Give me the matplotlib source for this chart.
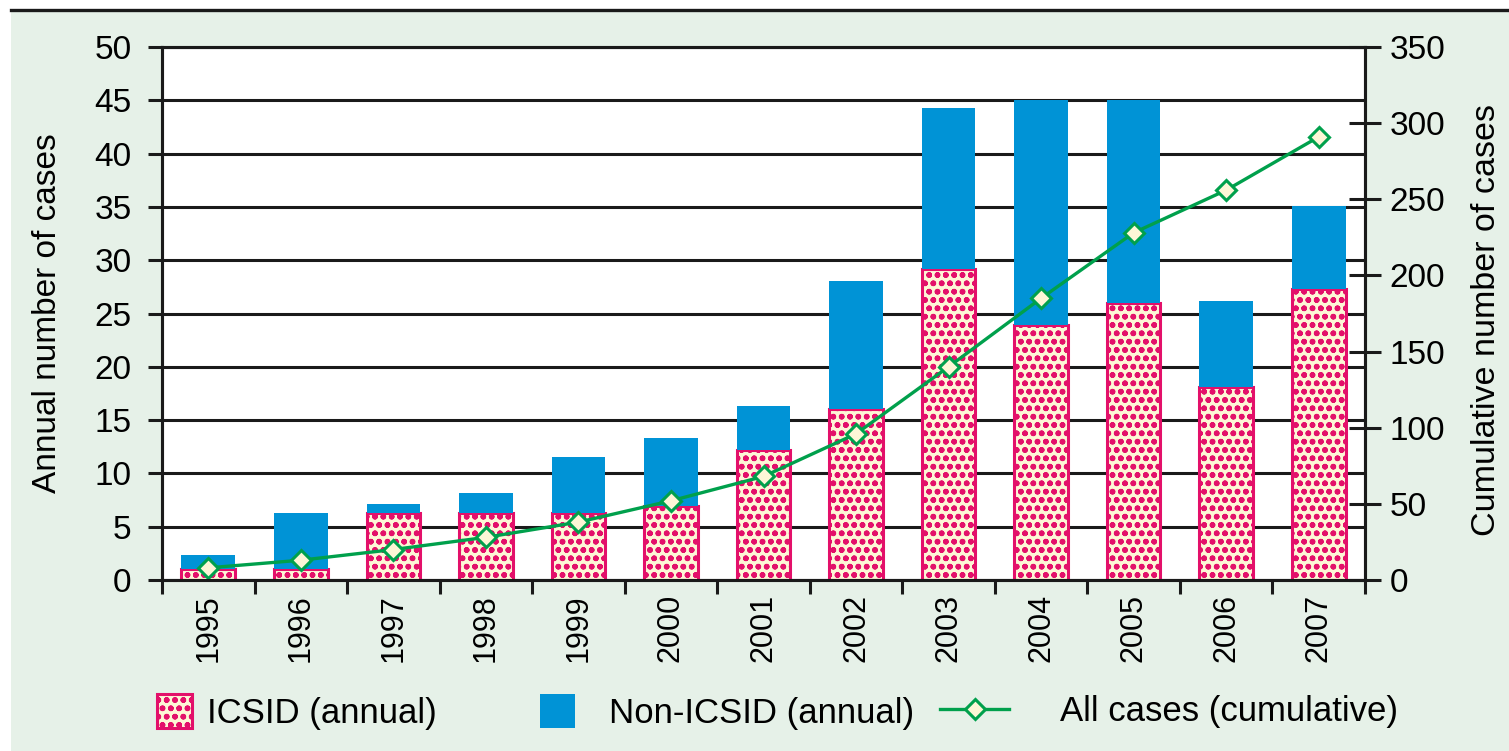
import numpy as np
import matplotlib
matplotlib.use('Agg')
import matplotlib.pyplot as plt
from matplotlib.lines import Line2D
from matplotlib.patches import Patch, Rectangle

years = ['1995', '1996', '1997', '1998', '1999', '2000', '2001',
         '2002', '2003', '2004', '2005', '2006', '2007']
icsid = [1.0, 1.0, 6.3, 6.3, 6.3, 6.9, 12.2, 16.0, 29.2, 23.9, 26.0, 18.1, 27.3]
non_icsid = [1.3, 5.3, 0.8, 1.9, 5.2, 6.45, 4.1, 12.05, 15.1, 21.1, 19.0, 8.1, 7.8]
cumulative = [8, 13, 20, 28, 38, 52, 68, 96, 140, 185, 228, 256, 291]

bg = '#e6f1e8'
cream = '#fdf6d6'
pink = '#e3106a'
blue = '#0093d6'
green = '#00a04c'
ink = '#1a1a1a'

plt.rcParams['font.family'] = ['Liberation Sans', 'DejaVu Sans']
plt.rcParams['hatch.linewidth'] = 1.7

W, H = 1509, 751
fig = plt.figure(figsize=(W / 100, H / 100), dpi=100)
fig.patches.append(Rectangle((11 / W, 0), 1, 1 - 11 / H, transform=fig.transFigure,
                             facecolor=bg, edgecolor='none', zorder=-10))
fig.add_artist(Line2D([11 / W, 1], [1 - 9.5 / H] * 2, color=ink, lw=2.4))

ax = fig.add_axes([162 / W, 1 - 580 / H, 1203 / W, 533 / H])
ax.set_facecolor('white')
x = np.arange(len(years))
ax.bar(x, icsid, width=0.58, color=cream, edgecolor=pink, hatch='oo', linewidth=2.2)
ax.bar(x, non_icsid, bottom=icsid, width=0.58, color=blue, linewidth=0)

ax.set_xlim(-0.5, 12.5)
ax.set_ylim(0, 50)
ax.set_yticks(range(0, 51, 5))
ax.grid(axis='y', color=ink, lw=2.2)
ax.set_axisbelow(True)
ax.set_xticks(x)
ax.set_xticklabels(years, rotation=90, fontsize=22)
ax.set_xticks(np.arange(-0.5, 13, 1), minor=True)
ax.tick_params(axis='x', which='major', length=0, pad=10)
ax.tick_params(axis='x', which='minor', length=10, width=2.2, color=ink)
ax.tick_params(axis='y', length=10, width=2.2, color=ink, labelsize=24, pad=12)
ax.set_ylabel('Annual number of cases', fontsize=24)
ax.yaxis.set_label_coords(-0.082, 0.5)

ax2 = ax.twinx()
ax2.plot(x, cumulative, color=green, lw=2.4, marker='D', ms=10,
         mfc=cream, mec=green, mew=2.2)
ax2.set_ylim(0, 350)
ax2.set_yticks(range(0, 351, 50))
ax2.tick_params(axis='y', direction='inout', length=23, width=2.2, color=ink,
                labelsize=24, pad=6)
ax2.set_ylabel('Cumulative number of cases', fontsize=24.5)
ax2.yaxis.set_label_coords(1.088, 0.488)

for a in (ax, ax2):
    for s in a.spines.values():
        s.set_linewidth(2.2)
        s.set_color(ink)

ly = 1 - 712 / H
common = dict(loc='center left', frameon=False, fontsize=25, borderpad=0, borderaxespad=0)
fig.legend(handles=[Patch(facecolor=cream, edgecolor=pink, hatch='oo', lw=2.2)],
           labels=['ICSID (annual)'], bbox_to_anchor=(157 / W, ly),
           handlelength=1.0, handleheight=1.1, handletextpad=0.45, **common)
fig.legend(handles=[Patch(facecolor=blue, edgecolor='none')],
           labels=['Non-ICSID (annual)'], bbox_to_anchor=(540 / W, ly),
           handlelength=1.0, handleheight=1.1, handletextpad=1.0, **common)
fig.legend(handles=[Line2D([], [], color=green, lw=2.4, marker='D', ms=10,
                           mfc=cream, mec=green, mew=2.2)],
           labels=['All cases (cumulative)'], bbox_to_anchor=(940 / W, ly),
           handlelength=2.0, handletextpad=1.45, **common)

fig.savefig('out.png', dpi=100)
